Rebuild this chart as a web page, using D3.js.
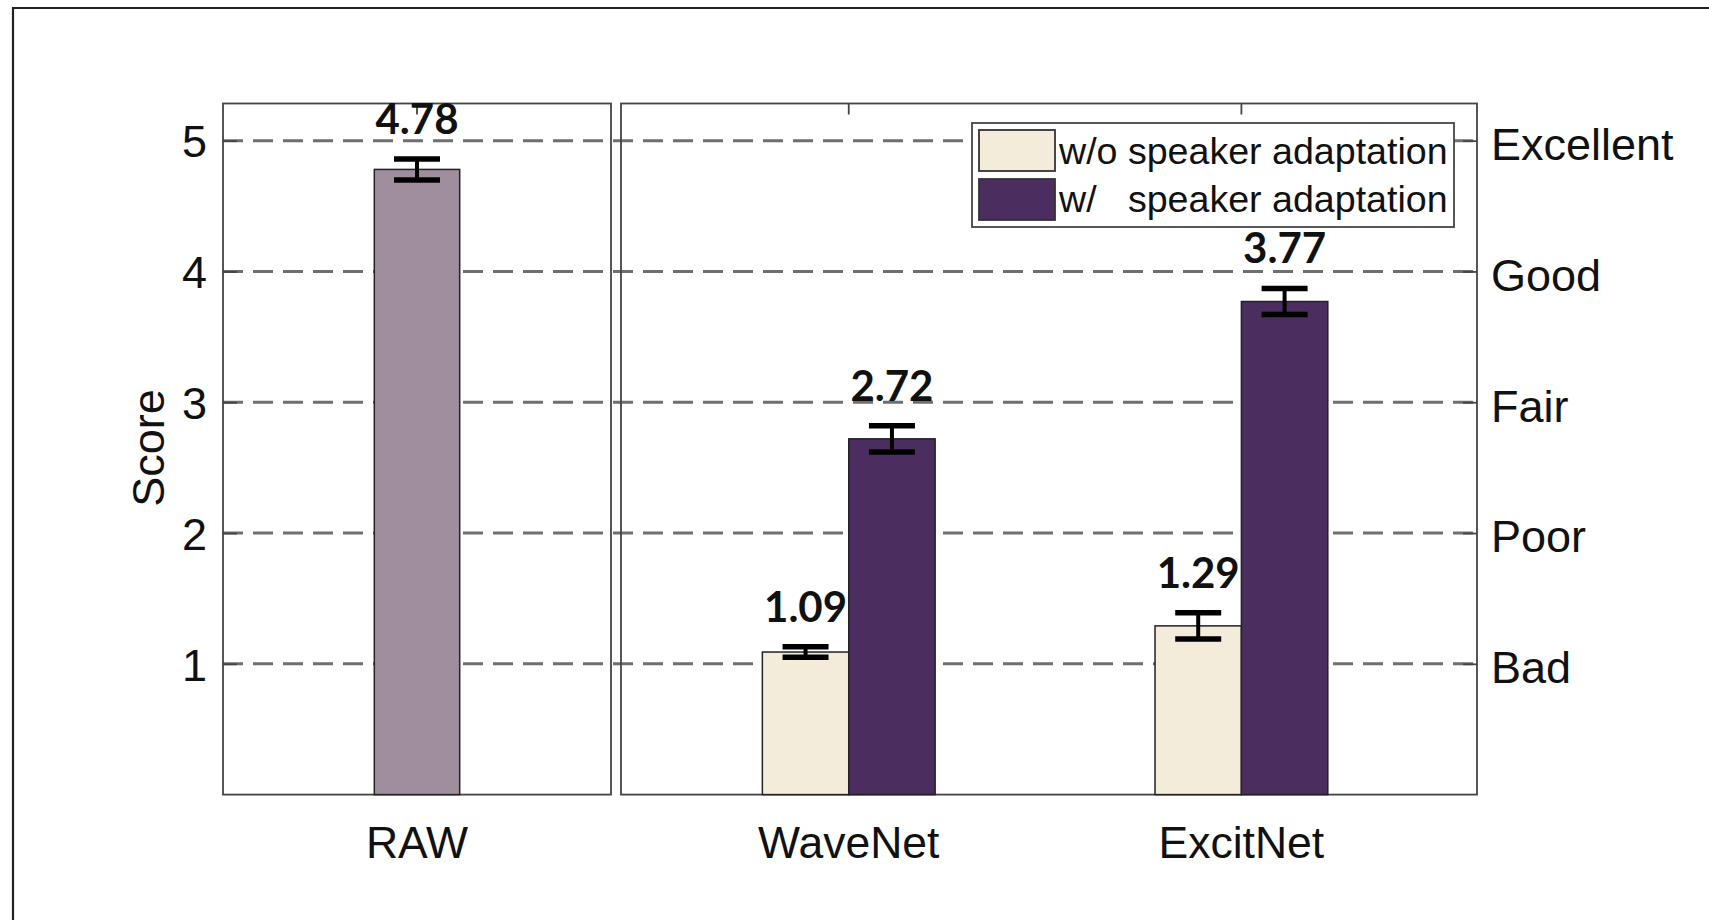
<!DOCTYPE html>
<html>
<head>
<meta charset="utf-8">
<script src="https://cdn.jsdelivr.net/npm/d3@7"></script>
<style>
  html, body { margin: 0; padding: 0; background: #fff; }
  svg { display: block; }
  text { font-family: "Liberation Sans", Arial, sans-serif; fill: #111; }
  .val { font-family: Lato, "Open Sans", sans-serif; font-weight: 700; }
</style>
</head>
<body>
<svg id="chart" width="1709" height="920"></svg>
<script>
// Reference recording (left panel)
const rawLabel = "RAW";
const rawValue = 4.78;
const rawError = 0.08;

// Synthesised speech (right panel)
const systems = ["WaveNet", "ExcitNet"];
const seriesNames = ["w/o speaker adaptation", "w/   speaker adaptation"];
const withoutAdapt = [1.09, 1.29];
const withAdapt = [2.72, 3.77];
const withoutAdaptErr = [0.04, 0.10];
const withAdaptErr = [0.10, 0.10];

// Axis ticks
const scoreTicks = [1, 2, 3, 4, 5];
const qualityLabels = ["Bad", "Poor", "Fair", "Good", "Excellent"];

const colors = { raw: "#a08e9f", without: "#f4ecda", with: "#4b2d5f" };

const svg = d3.select("#chart");

const plotTop = 103.5, plotBottom = 794.6;
const leftL = 223, leftR = 611, rightL = 621, rightR = 1477;
const barW = 0.22;

const y = d3.scaleLinear().domain([0, 5.284]).range([plotBottom, plotTop]);
const xLeft = d3.scaleLinear().domain([0.5, 1.5]).range([leftL, leftR]);
const xRight = d3.scaleLinear().domain([0.42, 2.6]).range([rightL, rightR]);

// outer figure frame
svg.append("path")
  .attr("d", "M13,920 L13,8 L1709,8")
  .attr("fill", "none").attr("stroke", "#222").attr("stroke-width", 2.2);

// dashed grid across both panels
svg.append("g").selectAll("line").data(scoreTicks).join("line")
  .attr("x1", leftL).attr("x2", rightR)
  .attr("y1", d => y(d)).attr("y2", d => y(d))
  .attr("stroke", "#6f6f6f").attr("stroke-width", 3)
  .attr("stroke-dasharray", "20,10");

// panel boxes
const axisColor = "#444";
[[leftL, leftR], [rightL, rightR]].forEach(([a, b]) => {
  svg.append("rect")
    .attr("x", a).attr("y", plotTop).attr("width", b - a).attr("height", plotBottom - plotTop)
    .attr("fill", "none").attr("stroke", axisColor).attr("stroke-width", 1.8);
});

// left y axis: numeric score
const yAxisL = d3.axisLeft(y).tickValues(scoreTicks).tickSize(-14).tickPadding(16).tickFormat(d3.format("d"));
const gL = svg.append("g").attr("transform", `translate(${leftL},0)`).call(yAxisL);
gL.select(".domain").remove();
gL.selectAll(".tick line").attr("stroke", axisColor).attr("stroke-width", 1.8);
gL.selectAll(".tick text").attr("font-size", 45).attr("fill", "#111").attr("dy", "0.36em")
  .attr("font-family", "Liberation Sans, Arial, sans-serif");

// right y axis: quality words
const yAxisR = d3.axisRight(y).tickValues(scoreTicks).tickSize(-14).tickPadding(14)
  .tickFormat((d, i) => qualityLabels[i]);
const gR = svg.append("g").attr("transform", `translate(${rightR},0)`).call(yAxisR);
gR.select(".domain").remove();
gR.selectAll(".tick line").attr("stroke", axisColor).attr("stroke-width", 1.8);
gR.selectAll(".tick text").attr("font-size", 45).attr("fill", "#111").attr("dy", "0.42em")
  .attr("font-family", "Liberation Sans, Arial, sans-serif");

// category ticks on top and bottom edges
const catX = [xLeft(1), xRight(1), xRight(2)];
const catNames = [rawLabel].concat(systems);
svg.append("g").selectAll("line").data(catX).join("line")
  .attr("x1", d => d).attr("x2", d => d)
  .attr("y1", plotTop).attr("y2", plotTop + 11)
  .attr("stroke", axisColor).attr("stroke-width", 1.8);
svg.append("g").selectAll("line").data(catX).join("line")
  .attr("x1", d => d).attr("x2", d => d)
  .attr("y1", plotBottom).attr("y2", plotBottom - 11)
  .attr("stroke", axisColor).attr("stroke-width", 1.8);

// y title
svg.append("text")
  .attr("transform", `translate(${164},${448}) rotate(-90)`)
  .attr("text-anchor", "middle").attr("font-size", 45).text("Score");

// category labels
svg.append("g").selectAll("text").data(catNames).join("text")
  .attr("x", (d, i) => catX[i]).attr("y", 858)
  .attr("text-anchor", "middle").attr("font-size", 44.5).text(d => d);

// bar records built from the arrays
const bars = [{ x0: xLeft(1 - barW / 2), x1: xLeft(1 + barW / 2), v: rawValue, e: rawError, fill: colors.raw }];
systems.forEach((s, i) => {
  bars.push({ x0: xRight(i + 1 - barW), x1: xRight(i + 1), v: withoutAdapt[i], e: withoutAdaptErr[i], fill: colors.without });
  bars.push({ x0: xRight(i + 1), x1: xRight(i + 1 + barW), v: withAdapt[i], e: withAdaptErr[i], fill: colors.with });
});

svg.append("g").selectAll("rect").data(bars).join("rect")
  .attr("x", d => d.x0).attr("width", d => d.x1 - d.x0)
  .attr("y", d => y(d.v)).attr("height", d => y(0) - y(d.v))
  .attr("fill", d => d.fill).attr("stroke", "#222").attr("stroke-width", 1.5);

// error bars
const eb = svg.append("g").attr("stroke", "#000");
bars.forEach(d => {
  const cx = (d.x0 + d.x1) / 2, hw = 23;
  eb.append("line").attr("x1", cx).attr("x2", cx)
    .attr("y1", y(d.v + d.e)).attr("y2", y(d.v - d.e)).attr("stroke-width", 4);
  [d.v + d.e, d.v - d.e].forEach(v => {
    eb.append("line").attr("x1", cx - hw).attr("x2", cx + hw)
      .attr("y1", y(v)).attr("y2", y(v)).attr("stroke-width", 5.5);
  });
});

// value labels
svg.append("g").selectAll("text").data(bars).join("text")
  .attr("class", "val")
  .attr("x", d => (d.x0 + d.x1) / 2)
  .attr("y", d => y(d.v + d.e) - 25)
  .attr("text-anchor", "middle").attr("font-size", 42)
  .text(d => d3.format(".2f")(d.v));

// legend
const lg = svg.append("g");
lg.append("rect").attr("x", 972).attr("y", 123).attr("width", 482).attr("height", 104)
  .attr("fill", "#fff").attr("stroke", "#444").attr("stroke-width", 1.8);
const legendFills = [colors.without, colors.with];
seriesNames.forEach((name, i) => {
  lg.append("rect").attr("x", 979).attr("y", 130 + i * 49).attr("width", 76).attr("height", 41)
    .attr("fill", legendFills[i]).attr("stroke", "#333").attr("stroke-width", 1.8);
  lg.append("text").attr("x", 1059).attr("y", 164 + i * 48)
    .attr("font-size", 37.6).style("white-space", "pre").text(name);
});
</script>
</body>
</html>
